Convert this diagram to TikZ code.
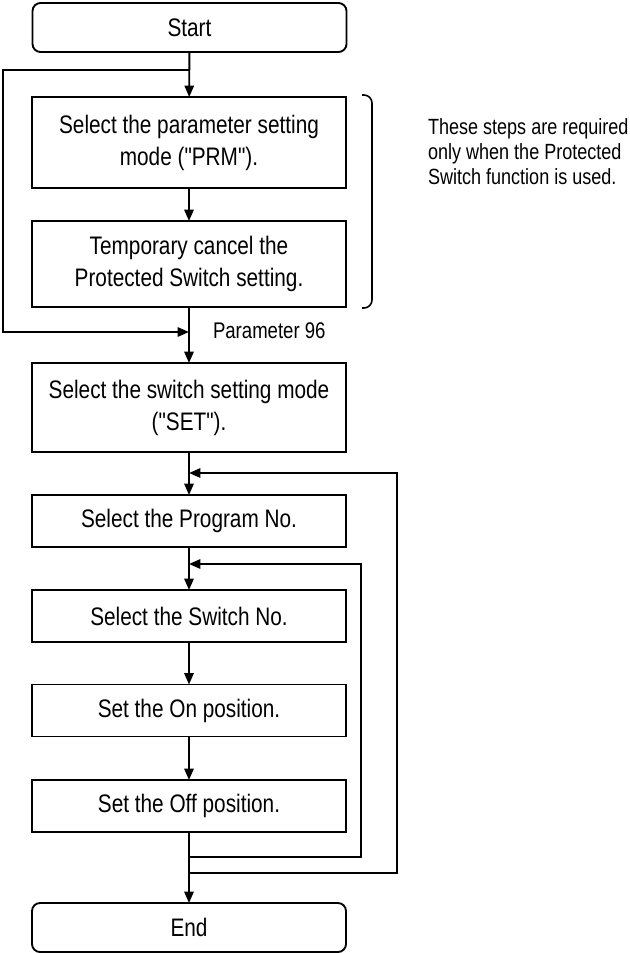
\documentclass[tikz,border=0pt]{standalone}
\usepackage{fontspec}
\setmainfont[FakeStretch=0.82, Ligatures=TeXOff]{Liberation Sans}
\usetikzlibrary{arrows.meta}
\begin{document}
\begin{tikzpicture}[x=0.75pt,y=-0.75pt,
  line width=1.4pt,
  stepbox/.style={draw, line width=1.4pt, minimum width=235.5pt, inner sep=0pt, outer sep=0pt, align=center, font=\fontsize{19}{24}\selectfont},
  termbox/.style={stepbox, rounded corners=6pt},
  arr/.style={-{Triangle[length=8.5pt,width=7pt]}},
  note/.style={inner sep=0pt, outer sep=0pt, align=left, font=\fontsize{16.5}{18.75}\selectfont},
  lbl/.style={inner sep=0pt, outer sep=0pt, anchor=west, font=\fontsize{17}{18}\selectfont}]
\useasboundingbox (0,0) rectangle (630,953);
% nodes
\node[termbox, minimum height=36.75pt] (start) at (189.5,27.5) {Start};
\node[stepbox, minimum height=68.25pt] (b1) at (189,142.5) {Select the parameter setting\\mode ("PRM").};
\node[stepbox, minimum height=64.5pt] (b2) at (189,264) {Temporary cancel the\\Protected Switch setting.};
\node[stepbox, minimum height=66.75pt] (b3) at (189,407.5) {Select the switch setting mode\\("SET").};
\node[stepbox, minimum height=39pt] (b4) at (189,521) {Select the Program No.};
\node[stepbox, minimum height=39pt] (b5) at (189,616) {Select the Switch No.};
\node[stepbox, minimum height=39pt] (b6) at (189,710.5) {Set the On position.};
\node[stepbox, minimum height=39pt] (b7) at (189,806) {Set the Off position.};
\node[termbox, minimum height=36.75pt] (end) at (189,927.5) {End};
\node[lbl] (p96) at (213,331) {Parameter 96};
\node[note, anchor=west] (note) at (428,152) {These steps are required\\only when the Protected\\Switch function is used.};
% junction coordinates
\coordinate (j1) at (189,70);
\coordinate (l1) at (3,70);
\coordinate (l2) at (3,332);
\coordinate (j2) at (189,332);
\coordinate (j3) at (189,473);
\coordinate (r1) at (397,473);
\coordinate (r2) at (397,873);
\coordinate (j4) at (189,873);
\coordinate (j5) at (189,564);
\coordinate (q1) at (361,564);
\coordinate (q2) at (361,857);
\coordinate (j6) at (189,857);
\coordinate (k1) at (362,95);
\coordinate (k2) at (372,95);
\coordinate (k3) at (372,308);
\coordinate (k4) at (362,308);
% main flow
\draw[arr] (start) -- (b1);
\draw[arr] (b1) -- (b2);
\draw[arr] (b2) -- (b3);
\draw[arr] (b3) -- (b4);
\draw[arr] (b4) -- (b5);
\draw[arr] (b5) -- (b6);
\draw[arr] (b6) -- (b7);
\draw[arr] (b7) -- (end);
% loops
\draw[arr] (j1) -- (l1) -- (l2) -- (j2);
\draw[arr] (j4) -- (r2) -- (r1) -- (j3);
\draw[arr] (j6) -- (q2) -- (q1) -- (j5);
% bracket
\draw[line width=1.2pt, rounded corners=6pt] (k1) -- (k2) -- (k3) -- (k4);
\end{tikzpicture}
\end{document}
